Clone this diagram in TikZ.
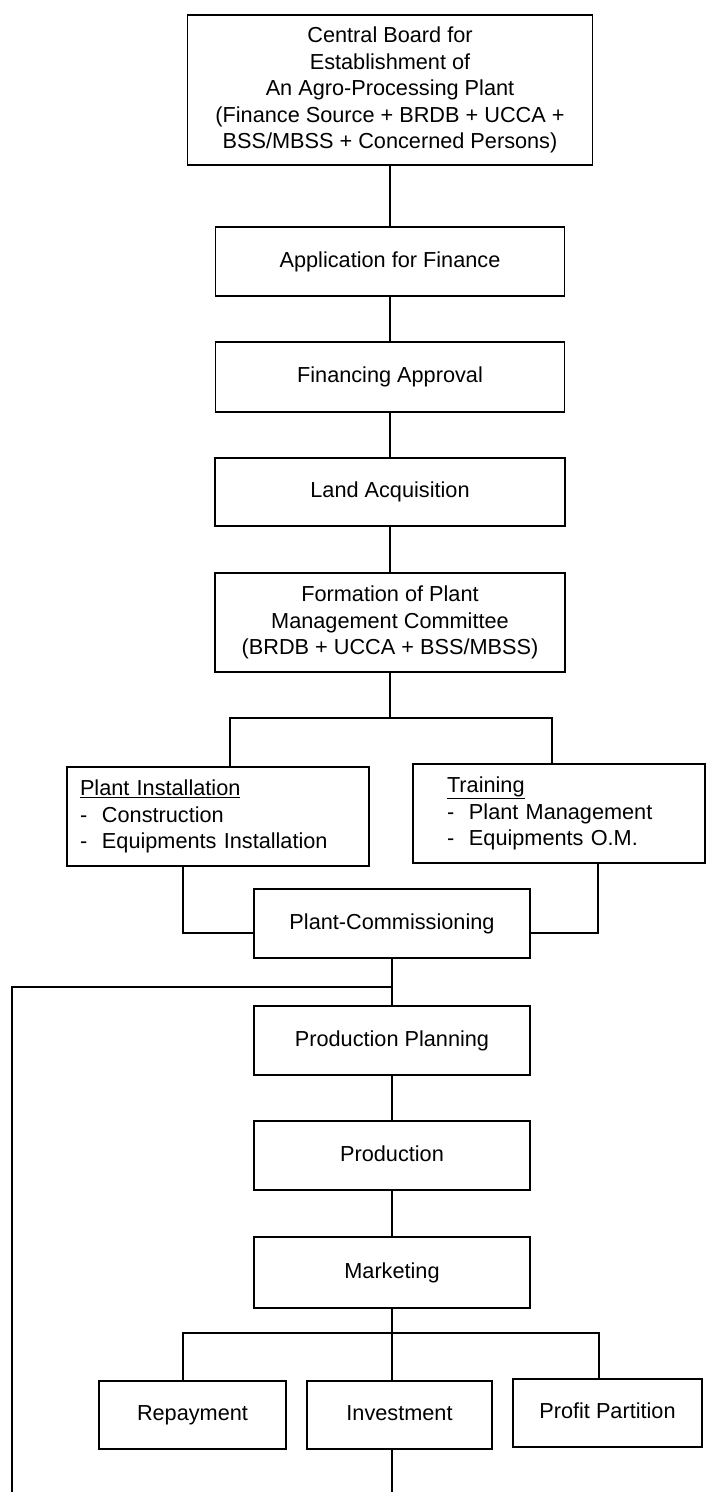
\documentclass[tikz,border=0pt]{standalone}
\usepackage{fontspec}
\setmainfont{Liberation Sans}
\usetikzlibrary{calc}
\newcommand{\itemdash}{\makebox[22pt][l]{-}}
\begin{document}
\begin{tikzpicture}[x=1pt,y=-1pt,
  box/.style={draw, line width=1.8pt, rectangle, inner sep=0pt, align=center,
              font=\fontsize{21.7}{26.5}\selectfont},
  single/.style={box, text height=15.5pt, text depth=4.5pt},
  link/.style={line width=1.8pt}]
\useasboundingbox (0,0) rectangle (708,1492);

% main column
\node[box, minimum width=405pt, minimum height=150pt] (central) at (390,90)
  {Central Board for\\Establishment of\\An Agro-Processing Plant\\(Finance Source + BRDB + UCCA +\\BSS/MBSS + Concerned Persons)};
\node[single, minimum width=349pt, minimum height=69pt] (app) at (390,261.5) {Application for Finance};
\node[single, minimum width=349pt, minimum height=70pt] (fin) at (390,377) {Financing Approval};
\node[single, minimum width=350pt, minimum height=68pt] (land) at (390,492) {Land Acquisition};
\node[box, minimum width=350pt, minimum height=99pt] (form) at (390,622.5)
  {Formation of Plant\\Management Committee\\(BRDB + UCCA + BSS/MBSS)};

% parallel branches
\node[box, align=left, text width=276pt, minimum width=302pt, minimum height=99pt] (inst) at (218,816.5)
  {\underline{Plant Installation}\\\itemdash Construction\\\itemdash Equipments Installation};
\node[box, align=left, text width=224pt, minimum width=292pt, minimum height=99pt] (train) at (559,813.5)
  {\underline{Training}\\\itemdash Plant Management\\\itemdash Equipments O.M.};

% lower column
\node[single, minimum width=276pt, minimum height=69pt] (comm) at (392,923.5) {Plant-Commissioning};
\node[single, minimum width=276pt, minimum height=69pt] (pp) at (392,1040.5) {Production Planning};
\node[single, minimum width=276pt, minimum height=69pt] (prod) at (392,1155.5) {Production};
\node[single, minimum width=276pt, minimum height=71pt] (mkt) at (392,1272.5) {Marketing};

% outcomes
\node[single, minimum width=187pt, minimum height=68pt] (rep) at (192.5,1415) {Repayment};
\node[single, minimum width=185pt, minimum height=68pt] (inv) at (399.5,1415) {Investment};
\node[single, minimum width=189pt, minimum height=68pt] (prof) at (607.5,1413) {Profit Partition};

% connectors
\draw[link] (central.south) -- (app.north);
\draw[link] (app.south) -- (fin.north);
\draw[link] (fin.south) -- (land.north);
\draw[link] (land.south) -- (form.north);

\coordinate (fsplit) at (390,718);
\draw[link] (form.south) -- (fsplit);
\draw[link] ([xshift=12pt]inst.north) |- (fsplit) -| ([xshift=-7pt]train.north);

\draw[link] ([xshift=-35pt]inst.south) |- ([yshift=-9.5pt]comm.west);
\draw[link] ([xshift=39pt]train.south) |- ([yshift=-9.5pt]comm.east);

\draw[link] (comm.south) -- (pp.north);
\coordinate (fbfoot) at (12,1492);
\draw[link] (fbfoot) |- ($(comm.south)!0.6!(pp.north)$);

\draw[link] (pp.south) -- (prod.north);
\draw[link] (prod.south) -- (mkt.north);

\coordinate (msplit) at (392,1333);
\draw[link] (mkt.south) -- (msplit);
\draw[link] ([xshift=-9.5pt]rep.north) |- (msplit) -| ([xshift=-8.5pt]prof.north);
\draw[link] (msplit) -- ([xshift=-7.5pt]inv.north);

\coordinate (invfoot) at (392,1492);
\draw[link] ([xshift=-7.5pt]inv.south) -- (invfoot);
\end{tikzpicture}
\end{document}
